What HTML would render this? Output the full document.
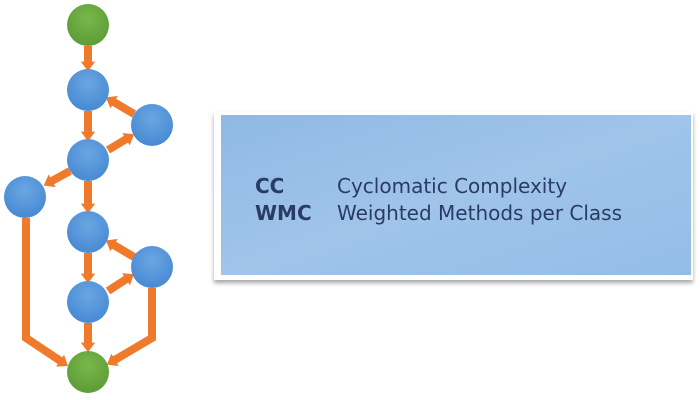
<!DOCTYPE html>
<html><head><meta charset="utf-8"><style>
html,body{margin:0;padding:0;background:#fff;width:700px;height:400px;overflow:hidden}
</style></head><body>
<svg width="700" height="400" viewBox="0 0 700 400" xmlns="http://www.w3.org/2000/svg">
<defs>
<radialGradient id="b" cx="0.5" cy="0.35" r="0.6"><stop offset="0" stop-color="#6aa6e2"/><stop offset="1" stop-color="#4a8bd4"/></radialGradient>
<radialGradient id="g" cx="0.5" cy="0.35" r="0.6"><stop offset="0" stop-color="#78b84a"/><stop offset="1" stop-color="#5f9e38"/></radialGradient>
<linearGradient id="bg" x1="0" y1="0" x2="1" y2="1"><stop offset="0" stop-color="#8fb9e3"/><stop offset="0.5" stop-color="#a0c4ea"/><stop offset="1" stop-color="#93bde6"/></linearGradient>
<marker id="a" markerWidth="1.6" markerHeight="1.8" refX="0.3" refY="0.9" orient="auto" markerUnits="strokeWidth"><path d="M0,0 L1.2,0.9 L0,1.8 Z" fill="#ef7a2c"/></marker>
<filter id="sh" x="-5%" y="-5%" width="110%" height="120%"><feDropShadow dx="0" dy="3" stdDeviation="2" flood-color="#000" flood-opacity="0.35"/></filter>
</defs>
<g stroke="#ef7a2c" stroke-width="8" fill="none">
<line x1="88" y1="46" x2="88" y2="64" marker-end="url(#a)"/>
<line x1="88" y1="111" x2="88" y2="134" marker-end="url(#a)"/>
<line x1="134" y1="114" x2="112" y2="101" marker-end="url(#a)"/>
<line x1="108" y1="150" x2="128" y2="138" marker-end="url(#a)"/>
<line x1="70" y1="171" x2="50" y2="182" marker-end="url(#a)"/>
<line x1="88" y1="181" x2="88" y2="206" marker-end="url(#a)"/>
<line x1="134" y1="257" x2="112" y2="244" marker-end="url(#a)"/>
<line x1="108" y1="291" x2="128" y2="278" marker-end="url(#a)"/>
<line x1="88" y1="253" x2="88" y2="276" marker-end="url(#a)"/>
<line x1="88" y1="323" x2="88" y2="345" marker-end="url(#a)"/>
<polyline points="26,218 26,338 62,362" marker-end="url(#a)"/>
<polyline points="152,288 152,338 113,361" marker-end="url(#a)"/>
</g>
<circle cx="88" cy="25" r="21" fill="url(#g)"/>
<circle cx="88" cy="90" r="21" fill="url(#b)"/>
<circle cx="152" cy="125" r="21" fill="url(#b)"/>
<circle cx="88" cy="160" r="21" fill="url(#b)"/>
<circle cx="25" cy="197" r="21" fill="url(#b)"/>
<circle cx="88" cy="232" r="21" fill="url(#b)"/>
<circle cx="152" cy="267" r="21" fill="url(#b)"/>
<circle cx="88" cy="302" r="21" fill="url(#b)"/>
<circle cx="88" cy="372" r="21" fill="url(#g)"/>
<rect x="214" y="112" width="479" height="168" fill="#fff" filter="url(#sh)"/>
<rect x="221" y="115" width="470" height="160" fill="url(#bg)"/>
<g font-family="'DejaVu Sans','Liberation Sans',sans-serif" font-size="20" fill="#2a3c66">
<text x="255" y="193" font-weight="bold">CC</text>
<text x="337" y="193">Cyclomatic Complexity</text>
<text x="255" y="220" font-weight="bold">WMC</text>
<text x="337" y="220">Weighted Methods per Class</text>
</g>
</svg>
</body></html>
